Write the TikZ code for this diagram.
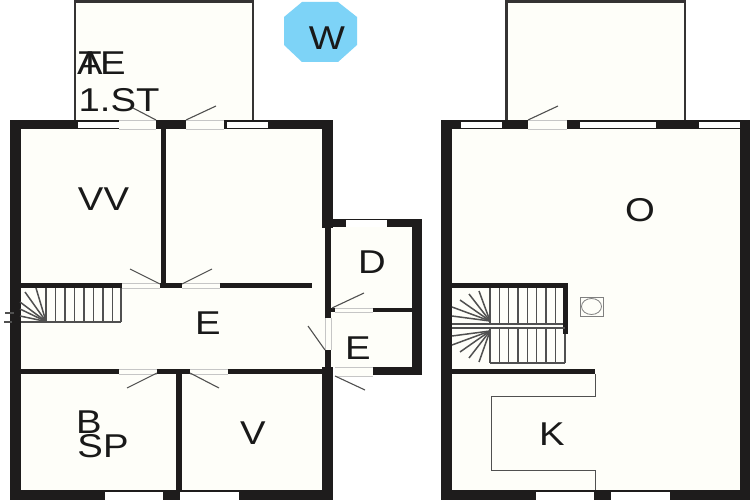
\documentclass[tikz,border=0pt]{standalone}
\usepackage{fontspec}
\setmainfont[FakeStretch=1.16]{Liberation Sans}
\definecolor{roomfill}{HTML}{FEFEF9}
\definecolor{wallk}{HTML}{1E1C1C}
\definecolor{linegray}{HTML}{505050}
\definecolor{skyblue}{HTML}{7DD3F7}
\tikzset{
 annex/.style={fill=roomfill,draw=wallk!90!white,line width=2.4pt},
 windowpane/.style={fill=white,draw=none},
 gappane/.style={fill=roomfill,draw=none},
 gapedge/.style={draw=gray!45,line width=.6pt},
 doorleaf/.style={draw=linegray,line width=1.1pt},
 tread/.style={draw=linegray,line width=1.2pt},
 winder/.style={draw=linegray,line width=1.5pt},
 counter/.style={draw=linegray,line width=1pt},
 lbl/.style={font=\fontsize{33}{33}\selectfont,text=black!90,inner sep=0pt,anchor=base}
}
\begin{document}
\begin{tikzpicture}[x=1pt,y=-1pt]
\useasboundingbox (0,0) rectangle (750,500);
\fill[white] (0,0) rectangle (750,500);
% annexes
\draw[annex] (75,1.5) rectangle (253,121);
\draw[annex] (506.5,1.5) rectangle (685,121);
% LEFT PLAN: rooms
\fill[roomfill] (21,129) rectangle (322,490);
\fill[roomfill] (322,227) rectangle (412,367);
% walls
\fill[wallk] (10,120) rectangle (21,500);
\fill[wallk] (10,120) rectangle (333,129);
\fill[wallk] (322,120) rectangle (333,228);
\fill[wallk] (325,228) rectangle (331,318);
\fill[wallk] (325,350) rectangle (331,367);
\fill[wallk] (322,367) rectangle (333,500);
\fill[wallk] (10,490) rectangle (333,500);
\fill[wallk] (322,219) rectangle (422,227);
\fill[wallk] (412,219) rectangle (422,375);
\fill[wallk] (373,367) rectangle (422,375);
\fill[wallk] (373,308) rectangle (412,312);
\fill[wallk] (331,308) rectangle (335,312);
\fill[wallk] (161,129) rectangle (166,285);
\fill[wallk] (21,283) rectangle (122,288);
\fill[wallk] (160,283) rectangle (182,288);
\fill[wallk] (220,283) rectangle (312,288);
\fill[wallk] (21,369) rectangle (119,374);
\fill[wallk] (157,369) rectangle (190,374);
\fill[wallk] (228,369) rectangle (322,374);
\fill[wallk] (176,374) rectangle (182,490);
% left windows and door gaps
\fill[windowpane] (78,122) rectangle (119,128);
\fill[gappane] (119,120) rectangle (156,129);
\fill[gappane] (186,120) rectangle (224,129);
\fill[windowpane] (227,122) rectangle (268,128);
\fill[windowpane] (346,220) rectangle (387,227);
\fill[windowpane] (105,492) rectangle (163,500);
\fill[windowpane] (180,492) rectangle (239,500);
\fill[gappane] (335,367) rectangle (373,376);
\fill[gappane] (335,308) rectangle (373,312);
\fill[gappane] (325,318) rectangle (331,350);
% gap edges
\foreach \a/\b/\c/\d in {119/120/156/129,186/120/224/129,122/283/160/288,182/283/220/288,119/369/157/374,190/369/228/374,335/308/373/312,335/367/373/376,528/120/567/129}{
  \draw[gapedge] (\a,\b) -- (\c,\b);
  \draw[gapedge] (\a,\d) -- (\c,\d);
}
\draw[gapedge] (325,318) -- (325,350);
\draw[gapedge] (331,318) -- (331,350);
% left door leaves
\coordinate (la1) at (156,120); \coordinate (la2) at (133,108);
\coordinate (lb1) at (186,120); \coordinate (lb2) at (216,106);
\coordinate (lc1) at (160,284); \coordinate (lc2) at (130,269);
\coordinate (ld1) at (182,284); \coordinate (ld2) at (212,269);
\coordinate (le1) at (157,373); \coordinate (le2) at (127,388);
\coordinate (lf1) at (190,373); \coordinate (lf2) at (219,388);
\coordinate (lg1) at (325,350); \coordinate (lg2) at (308,326);
\coordinate (lh1) at (332,308); \coordinate (lh2) at (364,293);
\coordinate (li1) at (335,376); \coordinate (li2) at (365,390);
\foreach \n in {la,lb,lc,ld,le,lf,lg,lh,li}{\draw[doorleaf] (\n1) -- (\n2);}
% left stairs
\foreach \x in {46,55.5,65,74.5,84,93.5,103,112.5,121}{\draw[tread] (\x,288) -- (\x,322);}
\draw[tread] (21,322) -- (121,322);
\coordinate (lw) at (46,321.5);
\foreach \a/\b in {36/288,25/292,20/302,20/309,20/316}{\draw[winder] (lw) -- (\a,\b);}
\draw[tread] (5,313) -- (14,313);
\draw[tread] (4,322) -- (12,322);
% RIGHT PLAN
\fill[roomfill] (452,129) rectangle (740,490);
\fill[wallk] (441,120) rectangle (452,500);
\fill[wallk] (441,120) rectangle (750,129);
\fill[wallk] (740,120) rectangle (750,500);
\fill[wallk] (441,490) rectangle (750,500);
\fill[wallk] (452,283) rectangle (568,288);
\fill[wallk] (563,283) rectangle (568,334);
\fill[wallk] (452,369) rectangle (595,374);
\fill[windowpane] (461,122) rectangle (502,128);
\fill[gappane] (528,120) rectangle (567,129);
\draw[gapedge] (528,120) -- (567,120);
\draw[gapedge] (528,129) -- (567,129);
\fill[windowpane] (580,122) rectangle (656,128);
\fill[windowpane] (699,122) rectangle (740,128);
\fill[windowpane] (536,492) rectangle (594,500);
\fill[windowpane] (611,492) rectangle (670,500);
\coordinate (ra1) at (528,120); \coordinate (ra2) at (558,106);
\draw[doorleaf] (ra1) -- (ra2);
% right stairs
\foreach \x in {490,499.3,508.7,518,527.3,536.7,546,555.3}{\draw[tread] (\x,288) -- (\x,324); \draw[tread] (\x,328) -- (\x,363);}
\draw[tread] (565,334) -- (565,363);
\draw[tread] (490,363) -- (565,363);
\draw[tread] (452,324) -- (563,324);
\draw[tread] (452,328) -- (565,328);
\coordinate (rw1) at (490,321); \coordinate (rw2) at (490,331);
\foreach \a/\b in {479/291,469/294,460/300,452/307,452/316}{\draw[winder] (rw1) -- (\a,\b);}
\foreach \a/\b in {452/336,452/345,460/352,469/358,479/362}{\draw[winder] (rw2) -- (\a,\b);}
% kitchen counter
\draw[counter] (595,374) -- (595,396) -- (491,396) -- (491,470) -- (595,470) -- (595,490);
% stove
\draw[draw=gray,fill=roomfill,line width=.8pt] (580,297) rectangle (603,316);
\draw[draw=gray,line width=.8pt] (591.5,306.5) ellipse [x radius=10,y radius=8];
% W badge
\fill[skyblue] (302,2) -- (338,2) -- (357,17) -- (357,45) -- (338,62) -- (302,62) -- (284,45) -- (284,17) -- cycle;
\node[lbl] (tW) at (327,50) {W};
% labels
\node[lbl] (tT) at (90,75) {T};
\node[lbl] (tA) at (90,75) {A};
\node[lbl] (tE) at (113,75) {E};
\node[lbl] (t1) at (119,112) {1.ST};
\node[lbl] (tVV) at (103.5,211) {VV};
\node[lbl] (tE1) at (208,334) {E};
\node[lbl] (tD) at (372,273) {D};
\node[lbl] (tE2) at (358,359) {E};
\node[lbl] (tB) at (89,433) {B};
\node[lbl] (tSP) at (103,457) {SP};
\node[lbl] (tV) at (253,444) {V};
\node[lbl] (tO) at (640,222) {O};
\node[lbl] (tK) at (552,445) {K};
\end{tikzpicture}
\end{document}
